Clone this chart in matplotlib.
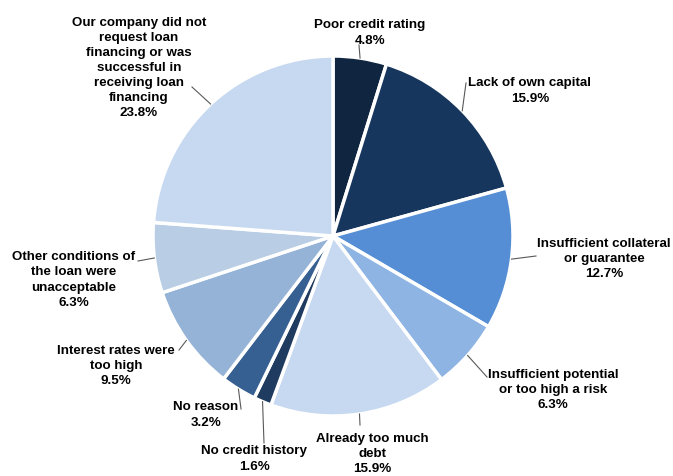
import numpy as np
import matplotlib
matplotlib.use("Agg")
import matplotlib.pyplot as plt

labels = [
    "Poor credit rating",
    "Lack of own capital",
    "Insufficient collateral\nor guarantee",
    "Insufficient potential\nor too high a risk",
    "Already too much\ndebt",
    "No credit history",
    "No reason",
    "Interest rates were\ntoo high",
    "Other conditions of\nthe loan were\nunacceptable",
    "Our company did not\nrequest loan\nfinancing or was\nsuccessful in\nreceiving loan\nfinancing",
]
shares = [4.8, 15.9, 12.7, 6.3, 15.9, 1.6, 3.2, 9.5, 6.3, 23.8]
colors = [
    "#10253f", "#17365d", "#558ed5", "#8eb4e3", "#c6d9f1",
    "#1f3b60", "#376092", "#95b3d7", "#b9cde5", "#c6d9f1",
]

# label centre (pixel coords, y down) and the point where the leader line meets the text
label_pos = [
    (370, 33), (530, 91), (604, 259), (553, 390), (372, 454),
    (254, 459), (206, 415), (116, 366), (74, 280), (139, 68),
]
leader_end = [
    (359, 46), (466, 84), (536, 257), (487, 378), (360, 426),
    (264, 444), (241, 410), (179, 351), (138, 262), (192, 88),
]

W, H = 673, 477
CX, CY, R = 333, 237, 180

plt.rcParams["font.family"] = ["Liberation Sans", "DejaVu Sans"]

fig = plt.figure(figsize=(W / 100, H / 100), dpi=100)
ax = fig.add_axes([0, 0, 1, 1])

wedges, _ = ax.pie(
    shares,
    colors=colors,
    startangle=90,
    counterclock=False,
    center=(CX, H - CY),
    radius=R,
    wedgeprops={"edgecolor": "white", "linewidth": 2.5},
    frame=True,
)
ax.set_xlim(0, W)
ax.set_ylim(0, H)
ax.set_aspect("equal")
ax.axis("off")

for w, lab, val, (tx, ty), (lx, ly) in zip(wedges, labels, shares, label_pos, leader_end):
    mid = np.deg2rad((w.theta1 + w.theta2) / 2)
    ex = CX + R * np.cos(mid)
    ey = (H - CY) + R * np.sin(mid)
    ax.plot([ex, lx], [ey, H - ly], color="#595959", lw=0.8)
    ax.text(tx, H - ty, f"{lab}\n{val:.1f}%", ha="center", va="center",
            fontsize=9.6, fontweight="bold", color="black", linespacing=1.35)

fig.savefig("out.png", dpi=100)
